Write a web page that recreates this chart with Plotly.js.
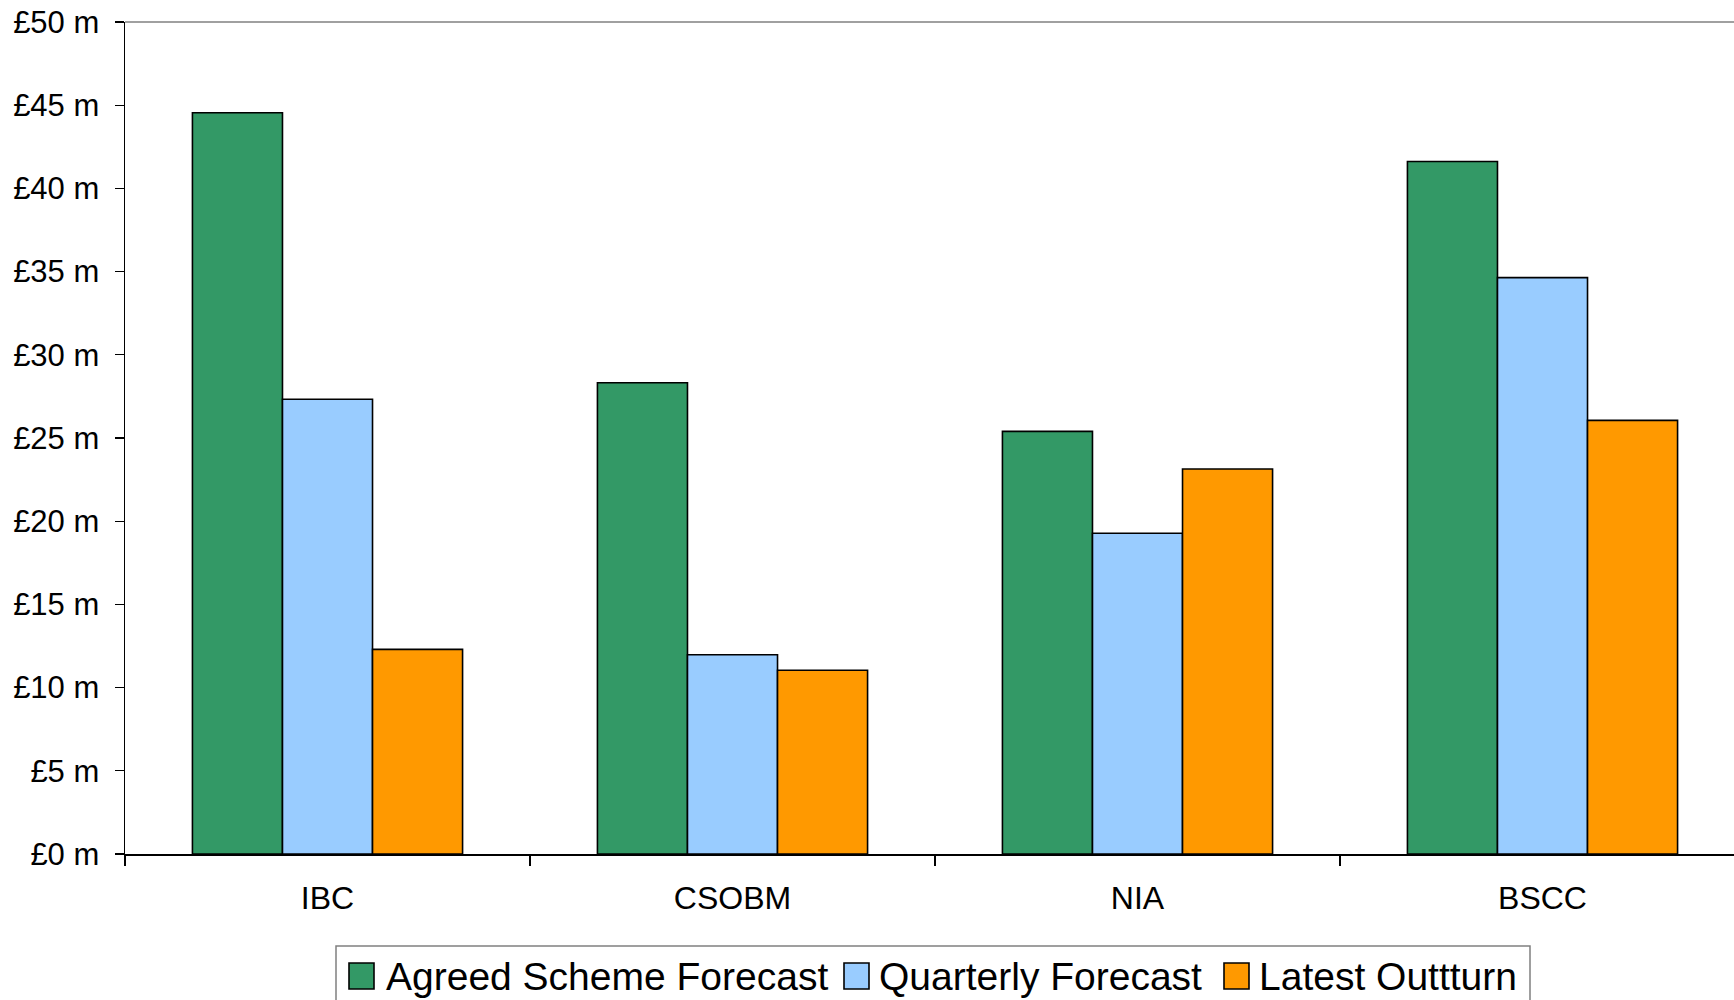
<!DOCTYPE html>
<html>
<head>
<meta charset="utf-8">
<script src="https://cdn.plot.ly/plotly-3.0.1.min.js"></script>
<style>
  html, body { margin: 0; padding: 0; background: #fff; }
  #chart { width: 1734px; height: 1000px; }
</style>
</head>
<body>
<div id="chart"></div>
<script>
// ---- data ----
var categories = ['IBC', 'CSOBM', 'NIA', 'BSCC'];
var seriesNames = ['Agreed Scheme Forecast', 'Quarterly Forecast', 'Latest Outtturn'];
var agreedScheme = [44.55, 28.32, 25.40, 41.62];
var quarterly = [27.33, 11.97, 19.28, 34.64];
var latestOutturn = [12.30, 11.04, 23.14, 26.06];
var seriesValues = [agreedScheme, quarterly, latestOutturn];

// ---- styles ----
var colors = ['#339966', '#99CCFF', '#FF9900'];
var FONT = 'Liberation Sans, Arial, sans-serif';
var W = 1734, H = 1000;
var M = {l: 125, r: 0, t: 22, b: 146};
var plotW = W - M.l - M.r, plotH = H - M.t - M.b;
function px(x) { return (x - M.l) / plotW; }
function py(y) { return (H - M.b - y) / plotH; }

var traces = seriesNames.map(function (name, i) {
  return {
    type: 'bar',
    name: name,
    x: categories,
    y: seriesValues[i],
    marker: {color: colors[i], line: {color: '#000000', width: 1.6}},
    showlegend: false,
    hoverinfo: 'x+y+name'
  };
});

// custom legend (larger swatches, like the original)
var legendSwatchX = [349, 844, 1224];
var legendTextX = [384, 877, 1257];
var shapes = [
  // top border of plot area (grey)
  {type: 'line', xref: 'paper', yref: 'paper', x0: 0, x1: 1, y0: 1, y1: 1,
   line: {color: '#808080', width: 1.5}},
  // legend box
  {type: 'rect', xref: 'paper', yref: 'paper', x0: px(336), x1: px(1530), y0: py(946), y1: py(1010),
   line: {color: '#808080', width: 1.5}, fillcolor: 'rgba(0,0,0,0)'}
];
var annotations = [];
seriesNames.forEach(function (name, i) {
  shapes.push({type: 'rect', xref: 'paper', yref: 'paper',
    x0: px(legendSwatchX[i]), x1: px(legendSwatchX[i] + 25),
    y0: py(963), y1: py(989),
    fillcolor: colors[i], line: {color: '#000000', width: 1.6}});
  annotations.push({xref: 'paper', yref: 'paper', x: px(legendTextX[i]), y: py(976),
    xanchor: 'left', yanchor: 'middle', showarrow: false, text: name,
    font: {family: FONT, size: 39, color: '#000'}});
});

var layout = {
  width: W, height: H,
  margin: M,
  paper_bgcolor: '#ffffff',
  plot_bgcolor: '#ffffff',
  barmode: 'group',
  bargap: 0.333,
  bargroupgap: 0,
  font: {family: FONT, size: 31, color: '#000'},
  xaxis: {
    type: 'category',
    range: [-0.5, -0.5 + plotW / 405],
    tickson: 'boundaries',
    ticks: 'outside', ticklen: 10, tickwidth: 1.2, tickcolor: '#000',
    showline: true, linecolor: '#000', linewidth: 1.5,
    showgrid: false, zeroline: false,
    tickfont: {family: FONT, size: 32, color: '#000'},
    ticklabelstandoff: 15,
    fixedrange: true
  },
  yaxis: {
    range: [0, 50],
    dtick: 5, tick0: 0,
    tickprefix: '£', ticksuffix: ' m',
    ticks: 'outside', ticklen: 9, tickwidth: 1.2, tickcolor: '#000',
    showline: true, linecolor: '#000', linewidth: 1.5,
    showgrid: false, zeroline: false,
    tickfont: {family: FONT, size: 31, color: '#000'},
    ticklabelstandoff: 9,
    fixedrange: true
  },
  shapes: shapes,
  annotations: annotations,
  showlegend: false
};

Plotly.newPlot('chart', traces, layout, {displayModeBar: false, staticPlot: true});
</script>
</body>
</html>
